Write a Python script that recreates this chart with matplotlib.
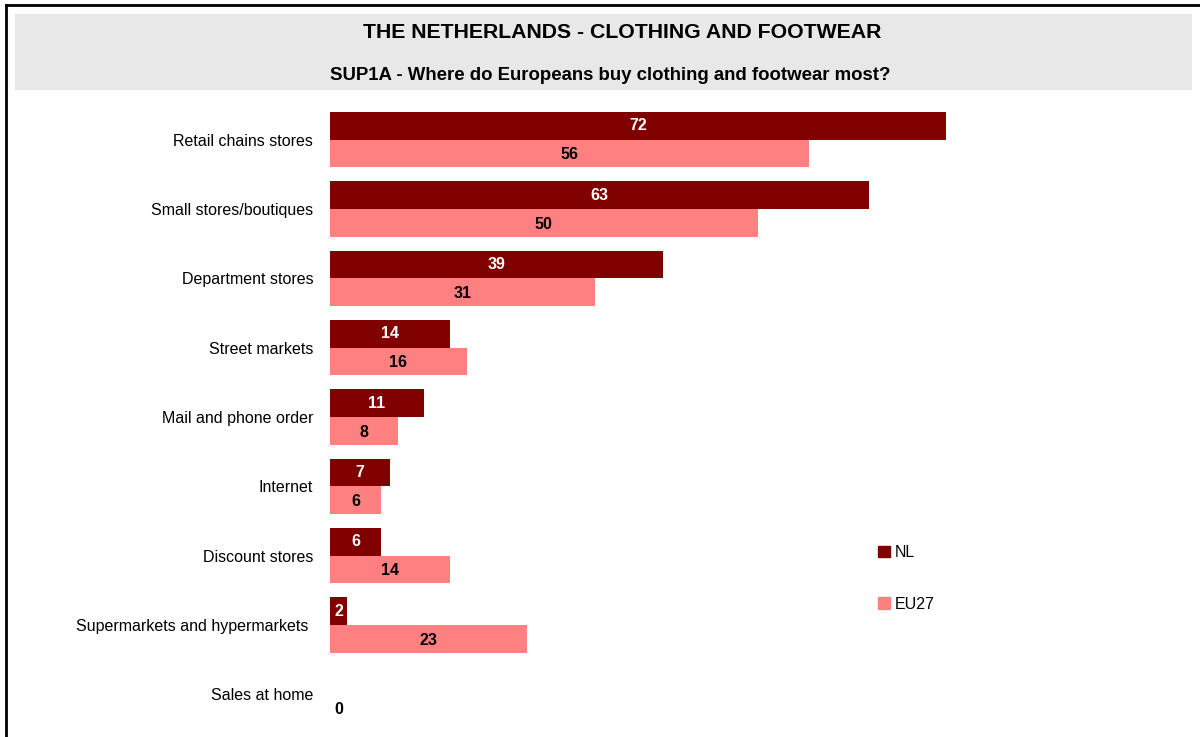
import matplotlib.pyplot as plt
from matplotlib.patches import Rectangle, Patch
from matplotlib.lines import Line2D

plt.rcParams['font.family'] = ['Liberation Sans', 'DejaVu Sans']

categories = [
    "Retail chains stores",
    "Small stores/boutiques",
    "Department stores",
    "Street markets",
    "Mail and phone order",
    "Internet",
    "Discount stores",
    "Supermarkets and hypermarkets ",
    "Sales at home",
]
nl_values = [72, 63, 39, 14, 11, 7, 6, 2, None]
eu_values = [56, 50, 31, 16, 8, 6, 14, 23, 0]

nl_color = "#800000"
eu_color = "#ff8080"

fig = plt.figure(figsize=(12, 7.37), dpi=100)

# frame lines along top and left edge
fig.add_artist(Line2D([0.005, 1.0], [1 - 5 / 737, 1 - 5 / 737], color="black", lw=2))
fig.add_artist(Line2D([6 / 1200, 6 / 1200], [0, 1 - 5 / 737], color="black", lw=2))

# grey title band
fig.add_artist(Rectangle((15 / 1200, 1 - 90 / 737), 1177 / 1200, 76 / 737,
                         transform=fig.transFigure, facecolor="#e8e8e8", edgecolor="none"))
fig.text(622 / 1200, 1 - 32 / 737, "THE NETHERLANDS - CLOTHING AND FOOTWEAR",
         ha="center", va="center", fontsize=15.3, fontweight="bold")
fig.text(610 / 1200, 1 - 76 / 737, "SUP1A - Where do Europeans buy clothing and footwear most?",
         ha="center", va="center", fontsize=13.4, fontweight="bold")

ax = fig.add_axes([330 / 1200, 1 - 729 / 737, 855 / 1200, 624 / 737])
ax.set_xlim(0, 100)
ax.set_ylim(len(categories) - 0.5, -0.5)

h = 0.4
for i, (nl, eu) in enumerate(zip(nl_values, eu_values)):
    if nl is not None:
        ax.barh(i - h / 2, nl, height=h, color=nl_color)
        ax.text(max(nl / 2, 1.0), i - h / 2, str(nl), ha="center", va="center",
                color="white", fontsize=11.5, fontweight="bold")
    ax.barh(i + h / 2, eu, height=h, color=eu_color)
    ax.text(max(eu / 2, 1.0), i + h / 2 + 0.02, str(eu), ha="center", va="center",
            color="black", fontsize=11.5, fontweight="bold")

ax.set_yticks(range(len(categories)))
ax.set_yticklabels(categories, fontsize=11.5)
ax.tick_params(axis="y", length=0, pad=12)
ax.set_xticks([])
for s in ax.spines.values():
    s.set_visible(False)

handles = [Patch(color=nl_color, label="NL"), Patch(color=eu_color, label="EU27")]
fig.legend(handles=handles, loc="upper left", bbox_to_anchor=(870 / 1200, 1 - 537 / 737),
           frameon=False, fontsize=11.5, handlelength=0.75, handleheight=0.75,
           handletextpad=0.3, labelspacing=2.3, borderpad=0)

fig.savefig("out.png", dpi=100)
